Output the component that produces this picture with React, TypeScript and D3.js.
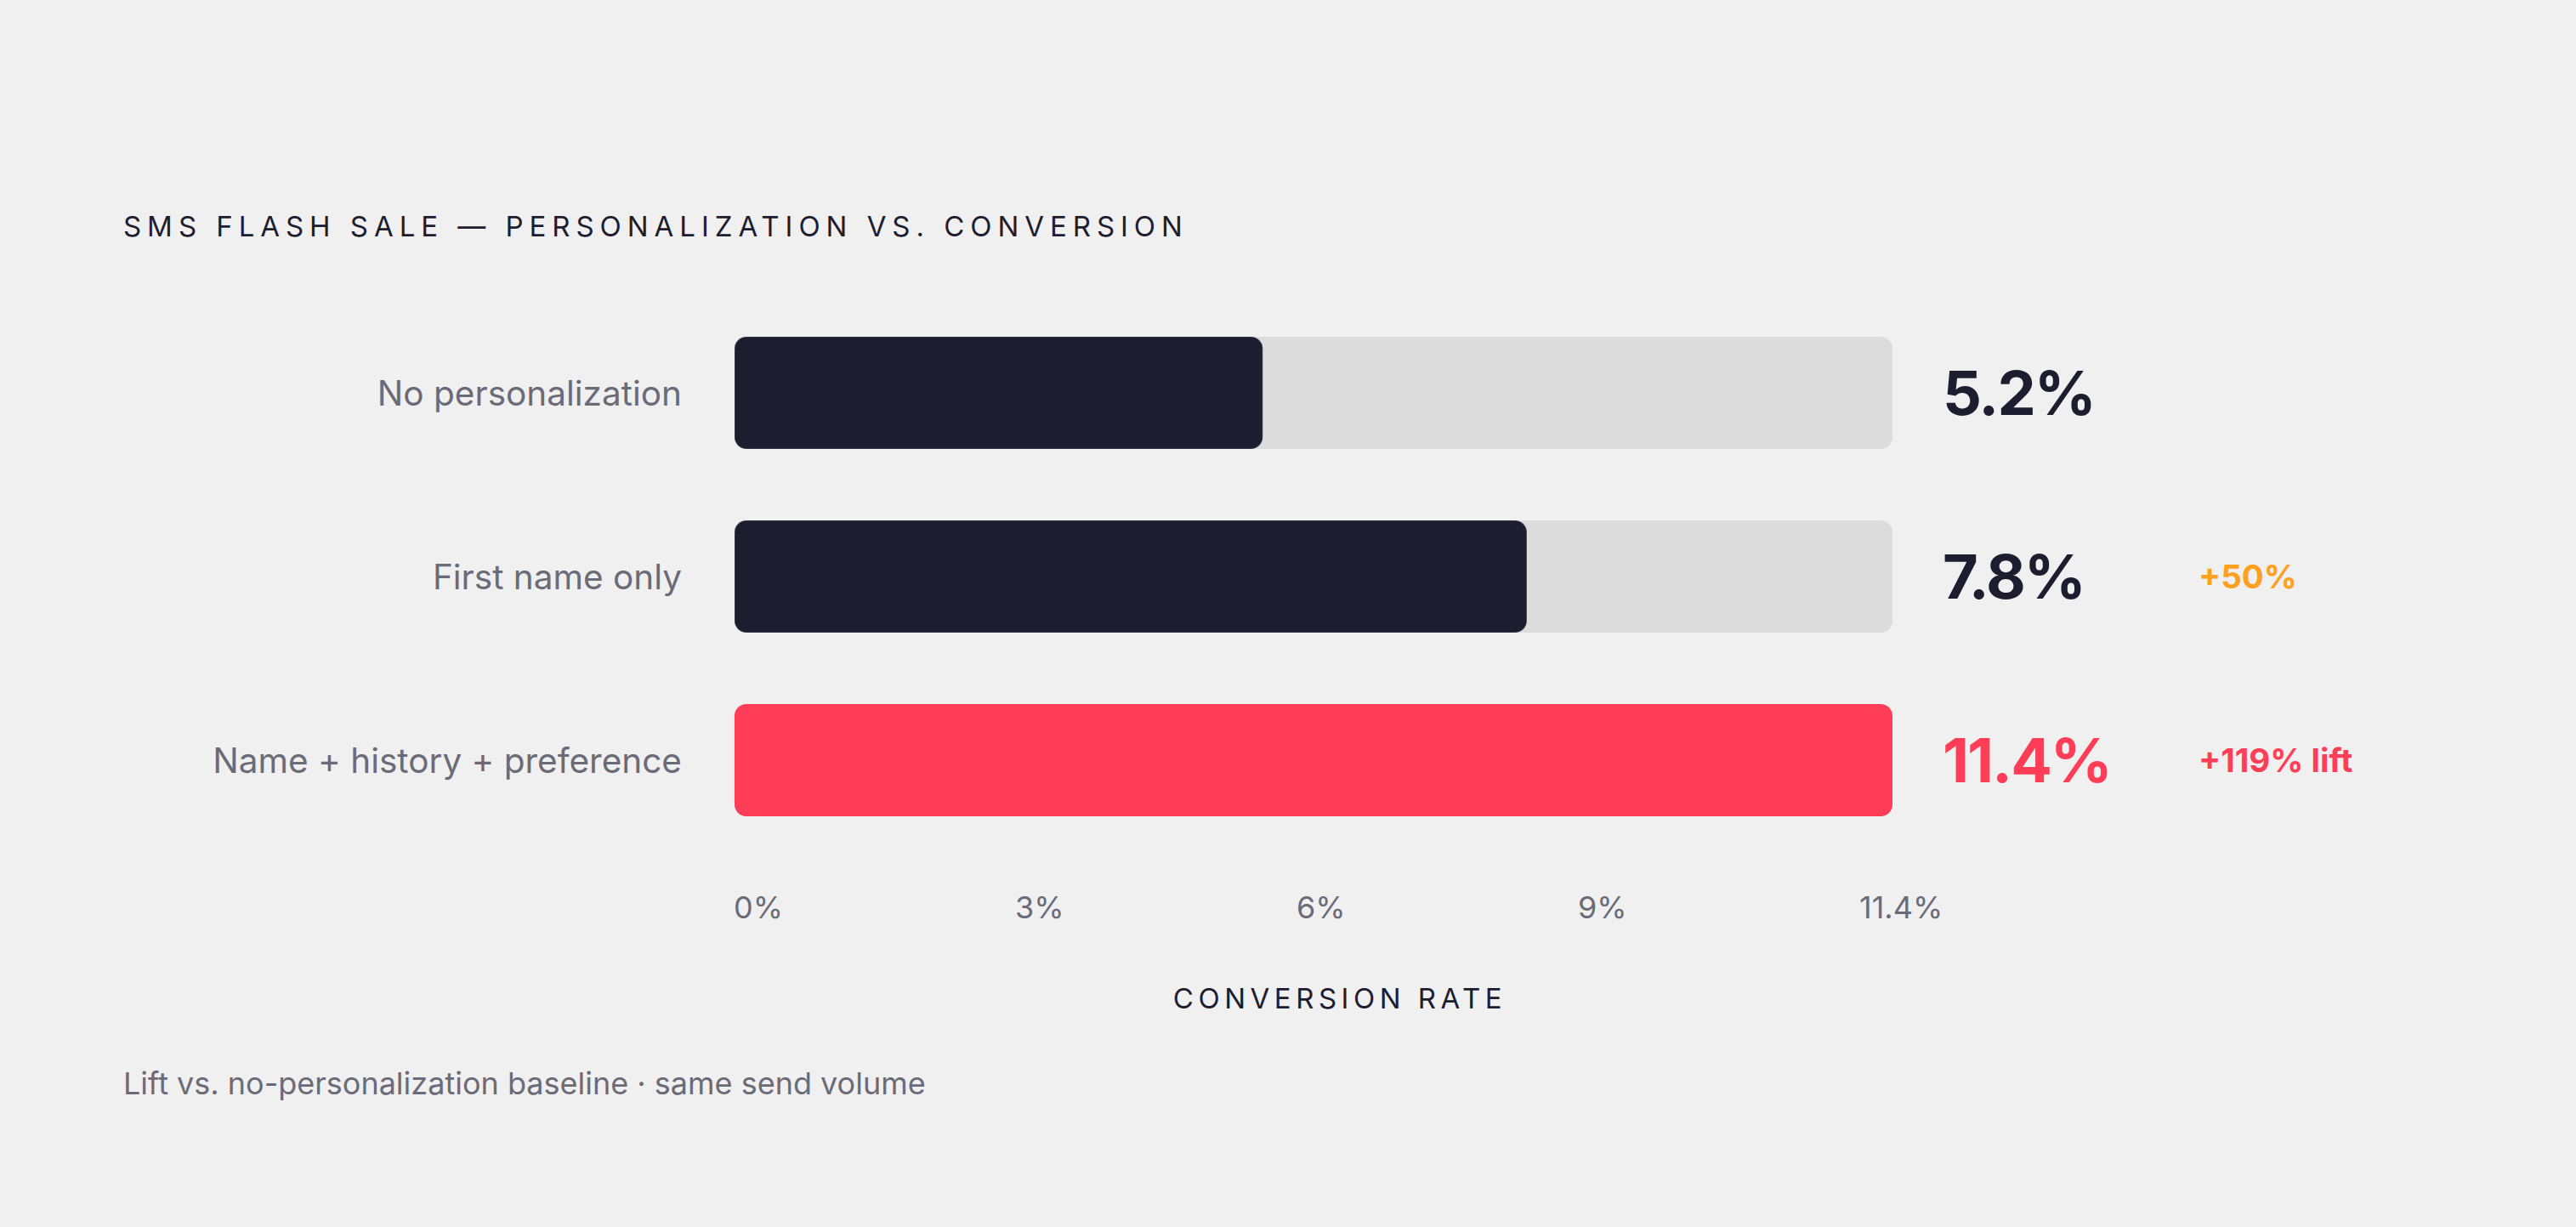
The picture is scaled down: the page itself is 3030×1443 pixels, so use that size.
import { useRef, useEffect } from 'react';
import * as d3 from 'd3';

const categories = ['No personalization', 'First name only', 'Name + history + preference'];
const rates = [5.2, 7.8, 11.4];
const valueLabels = ['5.2%', '7.8%', '11.4%'];
const liftLabels = ['', '+50%', '+119% lift'];
const tickLabels = ['0%', '3%', '6%', '9%', '11.4%'];
const maxRate = 11.4;

const WIDTH = 3030;
const HEIGHT = 1443;
const FONT = 'Inter, "Noto Sans", sans-serif';

const DARK = '#1e1d30';
const GREY = '#6b6b78';
const TRACK = '#dcdcdc';
const RED = '#ff3d57';
const ORANGE = '#ffa01f';

export default function App() {
  const ref = useRef<SVGSVGElement>(null);

  useEffect(() => {
    if (!ref.current) return;
    const svg = d3.select(ref.current);
    svg.selectAll('*').remove();

    svg.append('rect').attr('width', WIDTH).attr('height', HEIGHT).attr('fill', '#f0f0f0');

    const x = d3.scaleLinear().domain([0, maxRate]).range([864, 2226]);
    const y = d3.scaleBand<string>().domain(categories).range([396, 960]).paddingInner(84 / 216).paddingOuter(0);
    const bw = y.bandwidth();
    const last = categories.length - 1;

    // title
    svg.append('text')
      .attr('x', 145)
      .attr('y', 278)
      .attr('font-family', FONT)
      .attr('font-size', 33)
      .attr('letter-spacing', 6.95)
      .attr('fill', DARK)
      .text('SMS FLASH SALE — PERSONALIZATION VS. CONVERSION');

    const rows = svg.selectAll('g.row')
      .data(categories)
      .enter()
      .append('g')
      .attr('class', 'row');

    // background track
    rows.append('rect')
      .attr('x', x(0))
      .attr('y', d => y(d)!)
      .attr('width', x(maxRate) - x(0))
      .attr('height', bw)
      .attr('rx', 14)
      .attr('fill', TRACK);

    // value bar
    rows.append('rect')
      .attr('x', x(0))
      .attr('y', d => y(d)!)
      .attr('width', (_, i) => x(rates[i]) - x(0))
      .attr('height', bw)
      .attr('rx', 14)
      .attr('fill', (_, i) => (i === last ? RED : DARK))
      .attr('stroke', (_, i) => (i === last ? 'none' : 'rgba(255,255,255,0.15)'))
      .attr('stroke-width', 1.5);

    // category labels
    rows.append('text')
      .attr('x', 802)
      .attr('y', d => y(d)! + bw / 2 + 14.5)
      .attr('text-anchor', 'end')
      .attr('font-family', FONT)
      .attr('font-size', 40.5)
      .attr('fill', GREY)
      .text(d => d);

    // value labels
    rows.append('text')
      .attr('x', 2285)
      .attr('y', d => y(d)! + bw / 2 + 26)
      .attr('font-family', FONT)
      .attr('font-size', 72)
      .attr('font-weight', 700)
      .attr('letter-spacing', -2)
      .attr('fill', (_, i) => (i === last ? RED : DARK))
      .text((_, i) => valueLabels[i]);

    // lift labels
    rows.append('text')
      .attr('x', 2586)
      .attr('y', d => y(d)! + bw / 2 + 14)
      .attr('font-family', FONT)
      .attr('font-size', 38.5)
      .attr('font-weight', 700)
      .attr('fill', (_, i) => (i === last ? RED : ORANGE))
      .text((_, i) => liftLabels[i]);

    // tick labels
    const tx = d3.scalePoint<string>().domain(tickLabels).range([863, 2187]);
    svg.append('g')
      .selectAll('text')
      .data(tickLabels)
      .enter()
      .append('text')
      .attr('x', d => tx(d)!)
      .attr('y', 1080)
      .attr('font-family', FONT)
      .attr('font-size', 36)
      .attr('fill', GREY)
      .text(d => d);

    // axis title
    svg.append('text')
      .attr('x', 1576)
      .attr('y', 1186)
      .attr('text-anchor', 'middle')
      .attr('font-family', FONT)
      .attr('font-size', 33)
      .attr('letter-spacing', 5.5)
      .attr('fill', DARK)
      .text('CONVERSION RATE');

    // footnote
    svg.append('text')
      .attr('x', 145)
      .attr('y', 1287)
      .attr('font-family', FONT)
      .attr('font-size', 36)
      .attr('fill', GREY)
      .text('Lift vs. no-personalization baseline · same send volume');
  }, []);

  return (
    <svg
      ref={ref}
      width={WIDTH}
      height={HEIGHT}
      style={{ position: 'absolute', left: 0, top: 0, display: 'block' }}
    />
  );
}
